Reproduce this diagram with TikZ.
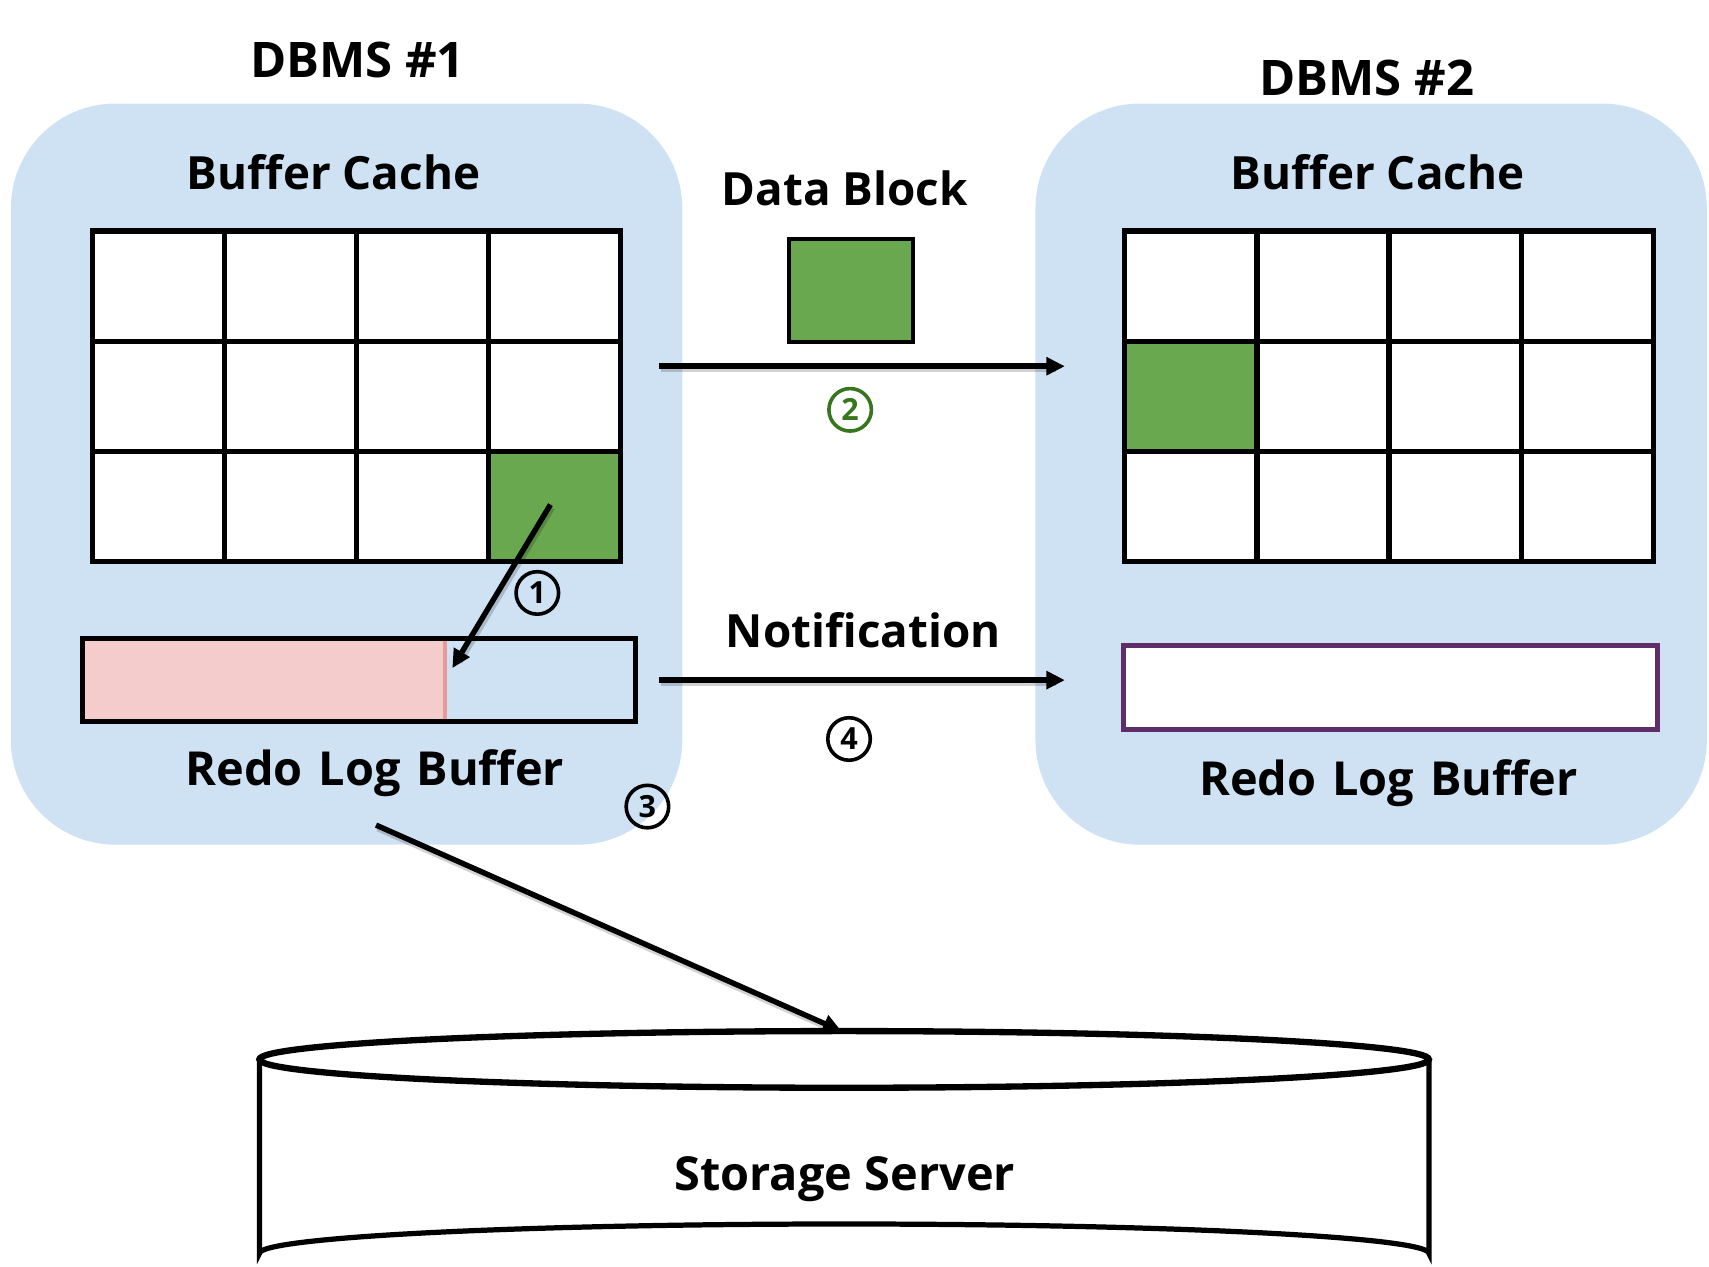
\documentclass[tikz,border=0pt]{standalone}
\usepackage{fontspec}
\setmainfont{Open Sans}
\usetikzlibrary{arrows.meta}

\definecolor{bubble}{HTML}{CFE2F3}
\definecolor{blockgreen}{HTML}{6AA84F}
\definecolor{logpink}{HTML}{F4CCCC}
\definecolor{logmark}{HTML}{EA9999}
\definecolor{stepgreen}{HTML}{38761D}
\definecolor{logpurple}{HTML}{5F2E69}

\newcommand{\widewords}{\spaceskip=0.34em\relax}

\tikzset{
  label/.style={font=\bfseries\fontsize{42}{50}\selectfont, inner sep=0pt},
  widelabel/.style={font={\bfseries\fontsize{43}{50}\selectfont\widewords}, inner sep=0pt},
  title/.style={font=\bfseries\fontsize{45}{52}\selectfont, inner sep=0pt},
  cell/.style={draw=black, line width=4.8pt, fill=white, inner sep=0pt,
               minimum width=121pt, minimum height=101pt},
  stepnum/.style={circle, draw, line width=3.3pt, minimum size=39pt, inner sep=0pt,
                  font=\bfseries\fontsize{28}{28}\selectfont},
  flow/.style={line width=5pt, -{Triangle[length=17pt,width=16pt]}},
  flowshadow/.style={line width=5.5pt, black, opacity=0.18, shorten >=10pt},
}

\begin{document}
\begin{tikzpicture}[x=1pt, y=-1pt]
\useasboundingbox (0,0) rectangle (1568,1162);

% two DBMS instances
\fill[bubble, rounded corners=96pt] (10,95) rectangle (626,775);
\fill[bubble, rounded corners=96pt] (950,95) rectangle (1566,775);

\node[title] (dbms1) at (328,55) {DBMS \#1};
\node[title] (dbms2) at (1254,72) {DBMS \#2};

\node[label] (bc1) at (306,158) {Buffer Cache};
\node[label] (bc2) at (1264,158) {Buffer Cache};

% buffer cache of DBMS #1
\foreach \r in {0,1,2}
  \foreach \c in {0,1,2,3}
    \node[cell] (L-\r-\c) at (85+121*\c+60.5, 212+101*\r+50.5) {};
\node[cell, fill=blockgreen] (L-2-3) at (85+121*3+60.5, 212+101*2+50.5) {};

% buffer cache of DBMS #2
\foreach \r in {0,1,2}
  \foreach \c in {0,1,2,3}
    \node[cell, minimum width=121.25pt] (R-\r-\c) at (1032+121.25*\c+60.6, 212+101*\r+50.5) {};
\node[cell, minimum width=121.25pt, fill=blockgreen] (R-1-0) at (1032+60.6, 212+101+50.5) {};

% transferred data block
\node[label] (dbtext) at (775,173) {Data Block};
\node[draw, line width=3.6pt, fill=blockgreen, minimum width=114pt, minimum height=95pt,
      inner sep=0pt] (dblock) at (781,266.5) {};

% redo log buffer of DBMS #1
\fill[logpink] (76,586) rectangle (408,662);
\draw[logmark, line width=4pt] (408,588) -- (408,660);
\node[draw, line width=4.8pt, minimum width=507pt, minimum height=76pt, inner sep=0pt]
  (log1) at (329.5,624) {};
\node[widelabel] (rl1) at (344,709) {Redo Log Buffer};

% redo log buffer of DBMS #2
\node[draw=logpurple, line width=4.8pt, fill=white, minimum width=490pt, minimum height=77pt,
      inner sep=0pt] (log2) at (1276,630.5) {};
\node[widelabel] (rl2) at (1274,719) {Redo Log Buffer};

% storage server
\filldraw[fill=white, line width=4.8pt]
  (238,972) -- (238,1150) arc[start angle=180, end angle=360, x radius=536.5, y radius=27]
  -- (1311,972);
\draw[line width=5.8pt, fill=white] (774.5,972) ellipse[x radius=536.5, y radius=26];
\coordinate (disktop) at (772,946);
\node[label, font=\bfseries\fontsize{43}{50}\selectfont] (storage) at (775,1082) {Storage Server};

\node[label] (notif) at (792,578) {Notification};

% connectors
\coordinate (s1) at (505,463);
\coordinate (e1) at (415,613);
\coordinate (s2) at (605,336);
\coordinate (e2) at (977,336);
\coordinate (s3) at (345,757);
\coordinate (s4) at (605,624);
\coordinate (e4) at (977,624);

\draw[flowshadow] ([shift={(1.5,3)}]s2) -- ([shift={(1.5,3)}]e2);
\draw[flowshadow] ([shift={(1.5,3)}]s4) -- ([shift={(1.5,3)}]e4);
\draw[flowshadow] ([shift={(1.5,3)}]s3) -- ([shift={(1.5,3)}]disktop);
\draw[flowshadow] ([shift={(1.5,3)}]s1) -- ([shift={(1.5,3)}]e1);

\draw[flow] (s1) -- (e1);
\draw[flow] (s2) -- (e2);
\draw[flow] (s3) -- (disktop);
\draw[flow] (s4) -- (e4);

\node[stepnum] (n1) at (493,544) {1};
\node[stepnum, draw=stepgreen, text=stepgreen] (n2) at (780,376) {2};
\node[stepnum] (n3) at (594,740) {3};
\node[stepnum] (n4) at (779,678) {4};
\end{tikzpicture}
\end{document}
